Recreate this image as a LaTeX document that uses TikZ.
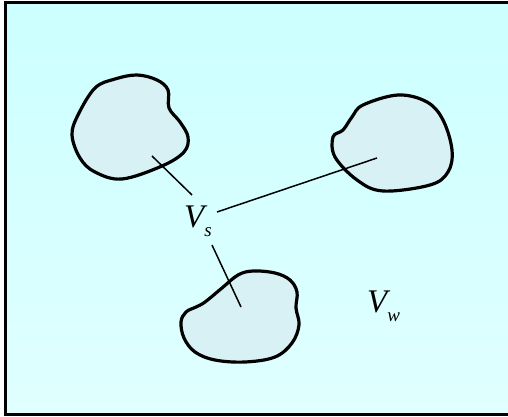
\documentclass[tikz,border=0pt]{standalone}
\usepackage{fontspec}
\setmainfont{Liberation Serif}
\definecolor{bgtop}{RGB}{204,255,255}
\definecolor{bgbot}{RGB}{224,255,255}
\definecolor{blobfill}{RGB}{216,241,245}
\tikzset{
  blob/.style={draw=black, line width=3.2pt, fill=blobfill},
  conn/.style={draw=black, line width=1.5pt},
  lab/.style={inner sep=0pt, font=\fontsize{33}{33}\selectfont\itshape},
}
\newcommand{\subsc}[1]{\raisebox{-0.3em}{\fontsize{19}{19}\selectfont #1}}
\begin{document}
\begin{tikzpicture}[x=1pt,y=-1pt]
\useasboundingbox (0,0) rectangle (508,417);
\clip (0,0) rectangle (508,417);
\shade[top color=bgtop, bottom color=bgbot] (5.5,2.5) rectangle (508,414.5);
\draw[line width=3pt] (508,2.5) -- (5.5,2.5) -- (5.5,414.5) -- (508,414.5);
% blob 1
\draw[blob] plot[smooth cycle, tension=0.6] coordinates {(137,75) (157,80) (168,90) (169,108) (180,122) (188,137) (184,152) (162,166) (122,179) (95,172) (80,158) (72,135) (78,115) (95,88) (115,79)};
% blob 2
\draw[blob] plot[smooth cycle, tension=0.6] coordinates {(398,95) (427,102) (443,120) (452,150) (448,172) (430,185) (383,191) (357,180) (335,157) (333,137) (343,130) (352,117) (363,105)};
% blob 3
\draw[blob] plot[smooth cycle, tension=0.6] coordinates {(253,271) (275,273) (290,280) (297,292) (296,308) (299,325) (292,343) (275,357) (245,362) (215,360) (195,352) (184,338) (181,322) (186,312) (196,307) (205,302) (222,288) (238,275)};
% labels
\node[lab, anchor=base west] (vs) at (184,227) {V\subsc{s}};
\node[lab, anchor=base west] (vw) at (367,312) {V\subsc{w}};
% connectors
\coordinate (c1) at (152,156);
\coordinate (c1e) at (192,195);
\coordinate (c2) at (377,158);
\coordinate (c2e) at (217,212);
\coordinate (c3) at (241,307);
\coordinate (c3e) at (212,245);
\draw[conn] (c1) -- (c1e);
\draw[conn] (c2e) -- (c2);
\draw[conn] (c3e) -- (c3);
\end{tikzpicture}
\end{document}
